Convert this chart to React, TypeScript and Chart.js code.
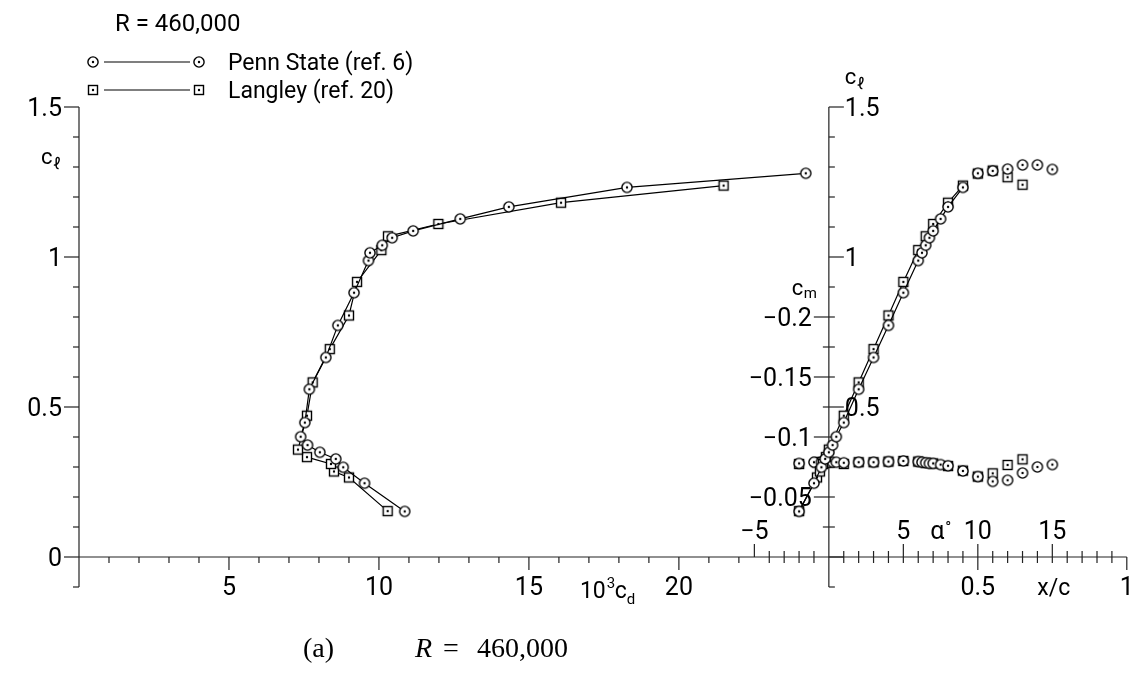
import { useEffect, useRef } from 'react';
import { Chart, registerables } from 'chart.js';

Chart.register(...registerables);

// ---------------- data ----------------
// Penn State (ref. 6)
const alphaPenn = [-2, -1, -0.5, -0.25, 0, 0.25, 0.5, 1, 2, 3, 4, 5, 6, 6.25, 6.5, 6.75, 7, 7.5, 8, 9, 10, 11, 12, 13, 14, 15];
const clPenn = [0.152, 0.246, 0.299, 0.327, 0.349, 0.373, 0.401, 0.448, 0.559, 0.665, 0.772, 0.881, 0.988, 1.014, 1.039, 1.064, 1.087, 1.127, 1.167, 1.232, 1.279, 1.287, 1.293, 1.307, 1.307, 1.292];
const cmPenn = [-0.078, -0.079, -0.079, -0.079, -0.079, -0.079, -0.079, -0.0785, -0.079, -0.079, -0.0795, -0.08, -0.0795, -0.079, -0.0785, -0.078, -0.078, -0.077, -0.076, -0.0717, -0.067, -0.063, -0.064, -0.07, -0.075, -0.077];
// drag polar (10^3 cd) for the first points of the Penn State run
const cdPenn = [10.86, 9.52, 8.81, 8.56, 8.03, 7.62, 7.39, 7.53, 7.68, 8.23, 8.63, 9.17, 9.65, 9.7, 10.11, 10.44, 11.14, 12.71, 14.33, 18.27, 24.23];

// Langley (ref. 20)
const alphaLang = [-2, -0.8, -0.6, -0.4, -0.2, 0, 1, 2, 3, 4, 5, 6, 6.5, 7, 8, 9, 10, 11, 12, 13];
const clLang = [0.153, 0.265, 0.285, 0.31, 0.333, 0.358, 0.471, 0.582, 0.693, 0.805, 0.917, 1.023, 1.069, 1.11, 1.181, 1.238, 1.278, 1.288, 1.266, 1.241];
const cmLang = [-0.0775, -0.079, -0.079, -0.079, -0.079, -0.079, -0.0775, -0.079, -0.079, -0.0795, -0.08, -0.0795, -0.0785, -0.078, -0.0758, -0.072, -0.067, -0.0697, -0.0767, -0.0814];
const cdLang = [10.29, 9.0, 8.5, 8.4, 7.6, 7.3, 7.6, 7.79, 8.36, 9.0, 9.27, 10.08, 10.3, 11.98, 16.07, 21.49];

// tick labels
const clTickLabels = [0, 0.5, 1, 1.5];
const clTickLabelsRight = [0.5, 1, 1.5];
const cmTickLabels = [-0.2, -0.15, -0.1, -0.05];
const cdTickLabels = [5, 10, 15, 20];
const alphaTickLabels = [-5, 5, 10, 15];
const xcTickLabels = [0.5, 1];

const seriesNames = ['Penn State (ref. 6)', 'Langley (ref. 20)'];
const reynoldsLabel = 'R = 460,000';

// ---------------- style ----------------
const INK = '#000';
const FONT = 'Roboto, "DejaVu Sans", "Liberation Sans", sans-serif';
const DEG_PX = 14.9;

function makeMarker(kind: 'circle' | 'square'): HTMLCanvasElement {
  const size = 14;
  const c = document.createElement('canvas');
  c.width = size;
  c.height = size;
  const g = c.getContext('2d')!;
  g.lineWidth = 1.4;
  g.strokeStyle = INK;
  g.fillStyle = '#fff';
  if (kind === 'circle') {
    g.beginPath();
    g.arc(7, 7, 5.1, 0, Math.PI * 2);
    g.fill();
    g.stroke();
  } else {
    g.fillRect(2.5, 2.5, 9, 9);
    g.strokeRect(2.5, 2.5, 9, 9);
  }
  g.fillStyle = INK;
  g.beginPath();
  g.arc(7, 7, 1.2, 0, Math.PI * 2);
  g.fill();
  return c;
}

function fmt(v: number): string {
  const s = String(v);
  return s.startsWith('-') ? '\u2212' + s.slice(1) : s;
}

const axesPlugin = {
  id: 'nacaAxes',
  beforeDatasetsDraw(chart: any) {
    const ctx: CanvasRenderingContext2D = chart.ctx;
    const { xCd, xAlpha, xXc, yCl, yCm } = chart.scales;
    const leftX = xCd.getPixelForValue(0);
    const rightX = xAlpha.getPixelForValue(0);
    const baseY = yCl.getPixelForValue(0);
    const topY = yCl.getPixelForValue(1.5);
    const footY = yCl.getPixelForValue(-0.1);
    ctx.save();
    ctx.strokeStyle = '#222';
    ctx.fillStyle = INK;
    ctx.lineWidth = 1.2;
    const seg = (x1: number, y1: number, x2: number, y2: number) => {
      ctx.beginPath();
      ctx.moveTo(x1, y1);
      ctx.lineTo(x2, y2);
      ctx.stroke();
    };
    const text = (t: string, x: number, y: number, size: number, align: CanvasTextAlign = 'left') => {
      ctx.font = `${size}px ${FONT}`;
      ctx.textAlign = align;
      ctx.textBaseline = 'alphabetic';
      ctx.fillText(t, x, y);
    };

    // axis lines
    seg(leftX, topY, leftX, footY);
    seg(rightX, topY, rightX, footY);
    seg(leftX, baseY, xXc.getPixelForValue(1), baseY);

    // cl ticks (left: outward to the left, right: to the right)
    for (let i = -1; i <= 15; i++) {
      const y = yCl.getPixelForValue(i / 10);
      const major = i >= 0 && i % 5 === 0;
      seg(leftX - (major ? 15 : 6), y, leftX, y);
      seg(rightX, y, rightX + (major ? 15 : 6), y);
    }
    // cm ticks (left of right axis)
    for (let k = 1; k <= 8; k++) {
      const y = yCm.getPixelForValue(-0.025 * k);
      seg(rightX - (k % 2 === 0 ? 15 : 6), y, rightX, y);
    }
    // cd ticks (down)
    for (let k = 1; k <= 22; k++) {
      const x = xCd.getPixelForValue(k);
      seg(x, baseY, x, baseY + (k % 5 === 0 ? 13 : 6));
    }
    // alpha ticks (up)
    for (let k = -5; k <= 19; k++) {
      if (k === 0) continue;
      const x = xAlpha.getPixelForValue(k);
      const major = k % 5 === 0;
      seg(x, baseY - (major ? 13 : 6), x, baseY);
      if (k < 0 && !major) seg(x, baseY, x, baseY + 6);
    }
    // x/c ticks (down)
    for (let j = 1; j <= 20; j++) {
      const x = xXc.getPixelForValue(j * 0.05);
      seg(x, baseY, x, baseY + (j % 10 === 0 ? 13 : 6));
    }

    const TS = 25;
    for (const v of clTickLabels) text(fmt(v), leftX - 17, yCl.getPixelForValue(v) + 9, TS, 'right');
    for (const v of clTickLabelsRight) text(fmt(v), rightX + 16, yCl.getPixelForValue(v) + 9, TS, 'left');
    for (const v of cmTickLabels) text(fmt(v), rightX - 17, yCm.getPixelForValue(v) + 9, TS, 'right');
    for (const v of cdTickLabels) text(fmt(v), xCd.getPixelForValue(v), baseY + 38, TS, 'center');
    for (const v of alphaTickLabels) text(fmt(v), xAlpha.getPixelForValue(v), baseY - 18, TS, 'center');
    for (const v of xcTickLabels) text(fmt(v), xXc.getPixelForValue(v), baseY + 38, TS, 'center');

    // axis titles
    // 10^3 c_d
    let x = xCd.getPixelForValue(16.7);
    const by = baseY + 41;
    text('10', x, by, 23);
    x += ctx.measureText('10').width;
    text('3', x + 1, by - 10, 15);
    x += 9;
    text('c', x, by, 23);
    x += ctx.measureText('c').width;
    text('d', x, by + 6, 15);
    // alpha
    const ax = xAlpha.getPixelForValue(6.8);
    text('\u03b1', ax, baseY - 18, 25);
    text('\u00b0', ax + 15, baseY - 24, 16);
    // x/c
    text('x/c', xXc.getPixelForValue(0.755), baseY + 38, 23, 'center');
    // c_l right
    text('c', rightX + 16, 84, 22);
    text('\u2113', rightX + 28, 89, 16);
    // c_l left
    text('c', leftX - 38, 164, 22);
    text('\u2113', leftX - 26, 169, 16);
    // c_m
    text('c', rightX - 37, 295, 22);
    text('m', rightX - 25, 298, 15);

    ctx.restore();
  },
  afterDraw(chart: any) {
    const ctx: CanvasRenderingContext2D = chart.ctx;
    const markers = chart.$markers as HTMLCanvasElement[];
    ctx.save();
    ctx.fillStyle = INK;
    ctx.strokeStyle = INK;
    ctx.lineWidth = 1.2;
    ctx.textBaseline = 'alphabetic';
    ctx.textAlign = 'left';
    ctx.font = `24px ${FONT}`;
    ctx.fillText(reynoldsLabel, 115, 31);
    ctx.font = `23px ${FONT}`;
    const rows = [62, 90];
    rows.forEach((y, i) => {
      ctx.beginPath();
      ctx.moveTo(104, y);
      ctx.lineTo(190, y);
      ctx.stroke();
      ctx.drawImage(markers[i], 93 - 7, y - 7);
      ctx.drawImage(markers[i], 199 - 7, y - 7);
      ctx.fillText(seriesNames[i], 228, y + 8);
    });
    ctx.restore();
  },
};

export default function App() {
  const ref = useRef<HTMLCanvasElement>(null);
  useEffect(() => {
    const circle = makeMarker('circle');
    const square = makeMarker('square');
    const hideAfter9 = (c: any) => (c.p0.parsed.x >= 9 ? 'rgba(0,0,0,0)' : INK);
    const common = {
      borderColor: INK,
      borderWidth: 1.2,
      pointRadius: 5,
      pointHoverRadius: 5,
    };
    const chart = new Chart(ref.current!, {
      type: 'scatter',
      data: {
        datasets: [
          {
            ...common,
            label: seriesNames[0] + ' polar',
            data: cdPenn.map((cd, i) => ({ x: cd, y: clPenn[i] })),
            xAxisID: 'xCd',
            yAxisID: 'yCl',
            showLine: true,
            pointStyle: circle as any,
          },
          {
            ...common,
            label: seriesNames[1] + ' polar',
            data: cdLang.map((cd, i) => ({ x: cd, y: clLang[i] })),
            xAxisID: 'xCd',
            yAxisID: 'yCl',
            showLine: true,
            pointStyle: square as any,
          },
          {
            ...common,
            label: seriesNames[0] + ' cl',
            data: alphaPenn.map((a, i) => ({ x: a, y: clPenn[i] })),
            xAxisID: 'xAlpha',
            yAxisID: 'yCl',
            showLine: true,
            segment: { borderColor: hideAfter9 },
            pointStyle: circle as any,
          },
          {
            ...common,
            label: seriesNames[1] + ' cl',
            data: alphaLang.map((a, i) => ({ x: a, y: clLang[i] })),
            xAxisID: 'xAlpha',
            yAxisID: 'yCl',
            showLine: true,
            segment: { borderColor: hideAfter9 },
            pointStyle: square as any,
          },
          {
            ...common,
            label: seriesNames[0] + ' cm',
            data: alphaPenn.map((a, i) => ({ x: a, y: cmPenn[i] })),
            xAxisID: 'xAlpha',
            yAxisID: 'yCm',
            showLine: false,
            pointStyle: circle as any,
          },
          {
            ...common,
            label: seriesNames[1] + ' cm',
            data: alphaLang.map((a, i) => ({ x: a, y: cmLang[i] })),
            xAxisID: 'xAlpha',
            yAxisID: 'yCm',
            showLine: false,
            pointStyle: square as any,
          },
        ],
      },
      options: {
        animation: false,
        responsive: false,
        devicePixelRatio: 1,
        layout: { padding: { left: 79, right: 6, top: 107, bottom: 135 } },
        plugins: { legend: { display: false }, tooltip: { enabled: false } },
        scales: {
          xCd: { type: 'linear', axis: 'x', display: false, min: 0, max: 35 },
          xAlpha: { type: 'linear', axis: 'x', display: false, min: -750 / DEG_PX, max: 300 / DEG_PX },
          xXc: { type: 'linear', axis: 'x', display: false, min: -750 / (20 * DEG_PX), max: 300 / (20 * DEG_PX) },
          yCl: { type: 'linear', axis: 'y', display: false, min: 0, max: 1.5 },
          yCm: { type: 'linear', axis: 'y', display: false, min: -0.375, max: 0, reverse: true },
        },
      } as any,
      plugins: [
        {
          id: 'markersStore',
          beforeInit(c: any) {
            c.$markers = [circle, square];
          },
        },
        axesPlugin,
      ],
    });
    return () => chart.destroy();
  }, []);

  const serif = '28px "Liberation Serif", "Times New Roman", serif';
  const cap = (left: number, content: any) => (
    <div style={{ position: 'absolute', left, top: 632, font: serif, color: '#000', whiteSpace: 'pre' }}>{content}</div>
  );
  return (
    <div style={{ position: 'fixed', left: 0, top: 0, width: 1135, height: 692, background: '#fff' }}>
      <canvas ref={ref} width={1135} height={692} style={{ display: 'block' }} />
      {cap(303, '(a)')}
      {cap(415, <i>R</i>)}
      {cap(443, '=')}
      {cap(477, '460,000')}
    </div>
  );
}
